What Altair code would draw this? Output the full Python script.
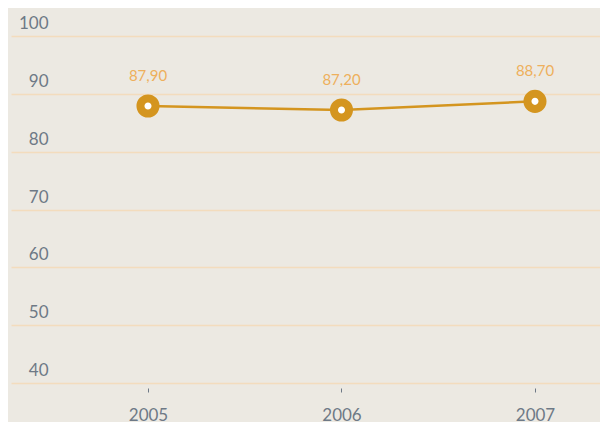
import altair as alt
import pandas as pd

years = [2005, 2006, 2007]
values = [87.9, 87.2, 88.7]
value_labels = ["87,90", "87,20", "88,70"]
y_ticks = [40, 50, 60, 70, 80, 90, 100]

df = pd.DataFrame({"year": years, "value": values, "label": value_labels})

LINE = "#d4951f"
TXT = "#eeb05c"
AX = "#6e7986"
BG = "#ece9e2"
GRID = "#f3dcbd"

x = alt.X(
    "year:Q",
    scale=alt.Scale(domain=[2004.292, 2007.336], nice=False, zero=False),
    axis=alt.Axis(
        values=years, format="d", title=None, domain=False, grid=False,
        ticks=True, tickSize=4, tickColor=AX, tickWidth=1, offset=5,
        labelPadding=15, labelFontSize=17, labelColor=AX, labelFont="Lato",
        labelBaseline="top",
    ),
)
y = alt.Y(
    "value:Q",
    scale=alt.Scale(domain=[40, 100], nice=False, zero=False),
    axis=alt.Axis(
        values=y_ticks, title=None, domain=False, ticks=False, tickSize=0,
        grid=True, gridColor=GRID, gridWidth=1.5,
        labelAlign="right", labelBaseline="alphabetic", labelOffset=-7.5,
        labelPadding=-37, labelFontSize=17, labelColor=AX, labelFont="Lato",
    ),
)

base = alt.Chart(df)
line = base.mark_line(color=LINE, strokeWidth=2.5).encode(x=x, y=y)
pts = base.mark_point(
    filled=True, fill="white", stroke=LINE, strokeWidth=8, size=227, opacity=1, shape="circle"
).encode(x=x, y=y)
txt = base.mark_text(
    dy=-30, baseline="middle", align="center", color=TXT, fontSize=15, font="Lato"
).encode(x=x, y=y, text="label:N")

chart = (
    alt.layer(line, pts, txt)
    .properties(
        width=589, height=347, background=BG,
        padding={"left": 3, "top": 28, "right": 0, "bottom": 39},
        autosize=alt.AutoSizeParams(type="none"),
    )
    .configure_view(stroke=None)
)

chart.save("out.html", embed_options={"renderer": "svg", "actions": False})
